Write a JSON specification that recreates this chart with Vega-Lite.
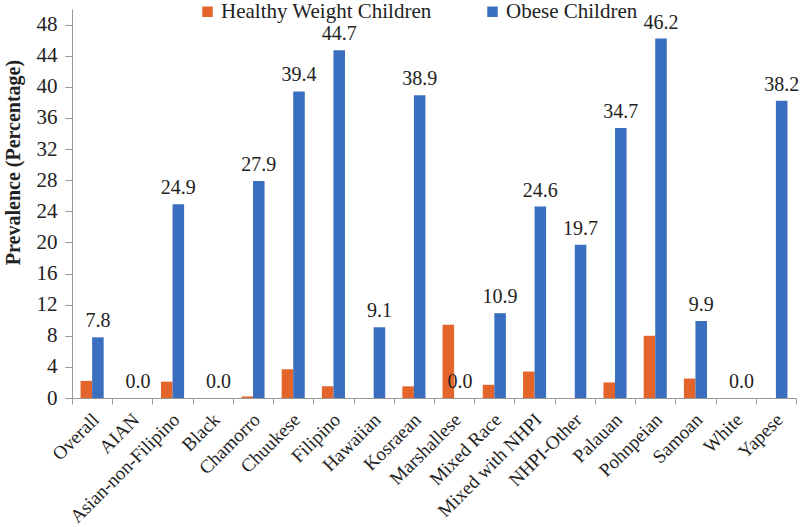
{
  "$schema": "https://vega.github.io/schema/vega-lite/v6.json",
  "autosize": "none",
  "width": 724,
  "height": 389,
  "padding": {"left": 72, "top": 9, "right": 4, "bottom": 129},
  "background": "white",
  "config": {
    "view": {"stroke": null},
    "font": "Liberation Serif",
    "axis": {"labelFont": "Liberation Serif", "titleFont": "Liberation Serif", "labelColor": "#222", "domainColor": "#999", "tickColor": "#999", "grid": false},
    "legend": {"labelFont": "Liberation Serif"},
    "text": {"font": "Liberation Serif"}
  },
  "data": {
    "values": [
      {"group": "Overall", "series": "Healthy Weight Children", "value": 2.2},
      {"group": "Overall", "series": "Obese Children", "value": 7.8},
      {"group": "AIAN", "series": "Healthy Weight Children", "value": 0},
      {"group": "AIAN", "series": "Obese Children", "value": 0},
      {"group": "Asian-non-Filipino", "series": "Healthy Weight Children", "value": 2.1},
      {"group": "Asian-non-Filipino", "series": "Obese Children", "value": 24.9},
      {"group": "Black", "series": "Healthy Weight Children", "value": 0},
      {"group": "Black", "series": "Obese Children", "value": 0},
      {"group": "Chamorro", "series": "Healthy Weight Children", "value": 0.2},
      {"group": "Chamorro", "series": "Obese Children", "value": 27.9},
      {"group": "Chuukese", "series": "Healthy Weight Children", "value": 3.7},
      {"group": "Chuukese", "series": "Obese Children", "value": 39.4},
      {"group": "Filipino", "series": "Healthy Weight Children", "value": 1.5},
      {"group": "Filipino", "series": "Obese Children", "value": 44.7},
      {"group": "Hawaiian", "series": "Healthy Weight Children", "value": 0},
      {"group": "Hawaiian", "series": "Obese Children", "value": 9.1},
      {"group": "Kosraean", "series": "Healthy Weight Children", "value": 1.5},
      {"group": "Kosraean", "series": "Obese Children", "value": 38.9},
      {"group": "Marshallese", "series": "Healthy Weight Children", "value": 9.4},
      {"group": "Marshallese", "series": "Obese Children", "value": 0},
      {"group": "Mixed Race", "series": "Healthy Weight Children", "value": 1.7},
      {"group": "Mixed Race", "series": "Obese Children", "value": 10.9},
      {"group": "Mixed with NHPI", "series": "Healthy Weight Children", "value": 3.4},
      {"group": "Mixed with NHPI", "series": "Obese Children", "value": 24.6},
      {"group": "NHPI-Other", "series": "Healthy Weight Children", "value": 0},
      {"group": "NHPI-Other", "series": "Obese Children", "value": 19.7},
      {"group": "Palauan", "series": "Healthy Weight Children", "value": 2.0},
      {"group": "Palauan", "series": "Obese Children", "value": 34.7},
      {"group": "Pohnpeian", "series": "Healthy Weight Children", "value": 8.0},
      {"group": "Pohnpeian", "series": "Obese Children", "value": 46.2},
      {"group": "Samoan", "series": "Healthy Weight Children", "value": 2.5},
      {"group": "Samoan", "series": "Obese Children", "value": 9.9},
      {"group": "White", "series": "Healthy Weight Children", "value": 0},
      {"group": "White", "series": "Obese Children", "value": 0},
      {"group": "Yapese", "series": "Healthy Weight Children", "value": 0},
      {"group": "Yapese", "series": "Obese Children", "value": 38.2}
    ]
  },
  "encoding": {
    "x": {
      "field": "group", "type": "nominal", "sort": null,
      "scale": {"paddingInner": 0, "paddingOuter": 0},
      "axis": {"title": null, "labelAngle": -45, "labelFont": "Liberation Serif", "labelFontSize": 19, "tickBand": "extent", "tickSize": 6, "labelPadding": 6, "labelOffset": -3}
    },
    "xOffset": {
      "field": "series", "type": "nominal",
      "scale": {"domain": ["Healthy Weight Children", "Obese Children"], "paddingInner": 0, "paddingOuter": 0.74}
    },
    "y": {
      "field": "value", "type": "quantitative",
      "scale": {"domain": [0, 50], "nice": false},
      "axis": {"title": "Prevalence (Percentage)", "titleFont": "Liberation Serif", "labelFont": "Liberation Serif", "titleFontSize": 20, "titleFontWeight": "bold", "titleColor": "#222", "titleX": -59, "titleY": 153, "titleAlign": "center", "titleBaseline": "middle", "titleAngle": -90, "values": [0,4,8,12,16,20,24,28,32,36,40,44,48], "labelFontSize": 21, "tickSize": 7, "labelPadding": 8}
    }
  },
  "layer": [
    {
      "mark": {"type": "bar"},
      "encoding": {
        "color": {
          "field": "series", "type": "nominal",
          "scale": {"domain": ["Healthy Weight Children", "Obese Children"], "range": ["#E4652B", "#3A6FBF"]},
          "legend": {"title": null, "orient": "none", "legendX": 125, "legendY": -8, "direction": "horizontal", "symbolType": "square", "symbolSize": 110, "symbolStrokeWidth": 0, "labelFontSize": 21, "labelFont": "Liberation Serif", "labelColor": "#222", "columnPadding": 50, "labelOffset": 3, "labelLimit": 300}
        }
      }
    },
    {
      "transform": [{"filter": "datum.series == 'Obese Children'"}],
      "mark": {"type": "text", "baseline": "bottom", "dy": -6, "fontSize": 20, "font": "Liberation Serif", "color": "#222"},
      "encoding": {
        "text": {"field": "value", "type": "quantitative", "format": ".1f"}
      }
    }
  ]
}
